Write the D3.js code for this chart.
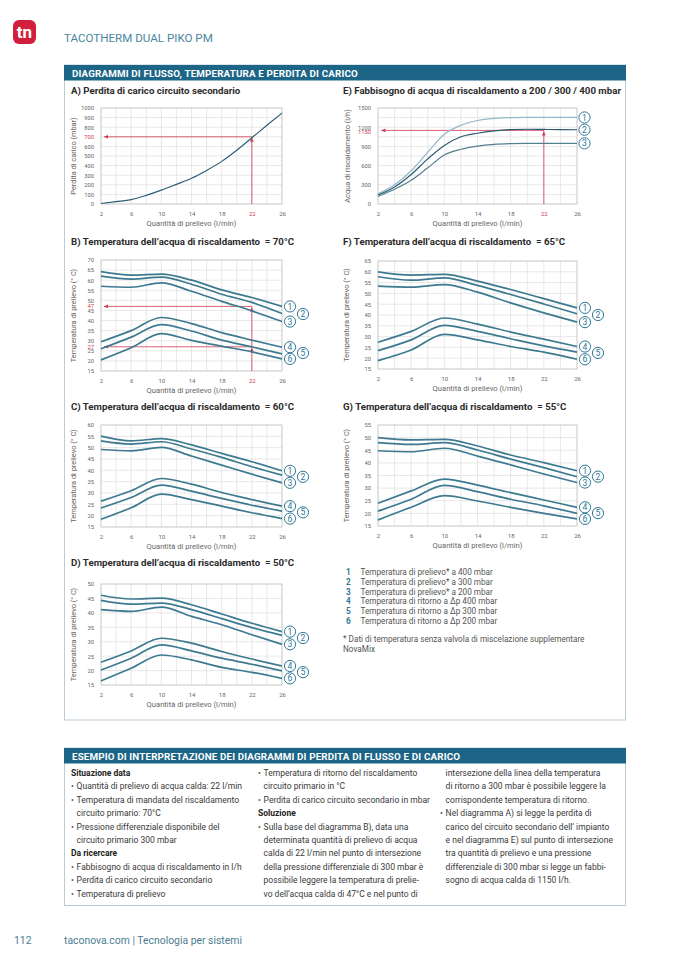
<!DOCTYPE html>
<html>
<head>
<meta charset="utf-8">
<script src="https://cdn.jsdelivr.net/npm/d3@7"></script>
<style>
  body { margin: 0; background: #fff; }
  text { font-family: Roboto, "Noto Sans", sans-serif; }
</style>
</head>
<body>
<svg id="page" width="678" height="959"></svg>
<script>
// ---- data ----
const flowTicks = [2, 6, 10, 14, 18, 22, 26];
const flowFine = [2, 4, 6, 8, 10, 12, 14, 16, 18, 20, 22, 24, 26];

const lossTicks = [0, 100, 200, 300, 400, 500, 600, 700, 800, 900, 1000];
const lossA = [5, 25, 46, 90, 144, 205, 268, 350, 444, 560, 690, 820, 947];

const demandTicks = [0, 300, 600, 900, 1200, 1500];
const demand400 = [160, 300, 520, 810, 1090, 1230, 1305, 1338, 1350, 1352, 1352, 1352, 1352];
const demand300 = [140, 265, 460, 705, 915, 1050, 1105, 1142, 1163, 1168, 1165, 1162, 1160];
const demand200 = [120, 230, 370, 565, 765, 855, 905, 932, 944, 948, 948, 948, 948];

const tempX = [2, 6, 10, 14, 18, 22, 26];
const temp70 = [
  [64.2, 62.5, 63.0, 60.0, 55.2, 51.4, 47.0],
  [62.0, 60.5, 61.5, 58.0, 53.0, 49.0, 43.5],
  [57.0, 56.5, 58.7, 54.5, 49.5, 44.8, 39.5],
  [29.5, 35.0, 41.5, 38.5, 34.0, 30.3, 26.8],
  [26.0, 31.8, 38.0, 34.8, 30.3, 27.0, 23.5],
  [20.5, 26.5, 33.5, 30.2, 27.3, 24.5, 21.0]
];
const temp65 = [
  [60.0, 58.5, 58.8, 55.7, 51.8, 47.6, 43.3],
  [57.7, 56.1, 57.2, 53.7, 49.5, 45.1, 40.6],
  [53.4, 52.9, 54.1, 50.6, 45.6, 41.0, 36.7],
  [27.4, 32.4, 38.6, 35.8, 32.1, 28.8, 25.4],
  [23.5, 28.5, 35.2, 32.4, 29.0, 25.7, 22.8],
  [18.9, 23.8, 31.0, 28.5, 25.4, 22.8, 19.5]
];
const temp60 = [
  [55.1, 53.0, 54.0, 51.2, 47.5, 43.8, 39.8],
  [53.0, 51.6, 52.6, 49.4, 45.7, 41.6, 37.9],
  [49.2, 48.6, 50.1, 46.3, 42.3, 38.3, 34.5],
  [26.4, 31.0, 36.4, 33.9, 30.2, 27.1, 24.2],
  [23.4, 28.0, 33.5, 30.8, 27.6, 24.6, 22.0],
  [18.4, 23.5, 29.5, 27.1, 24.2, 21.3, 18.7]
];
const temp55 = [
  [50.0, 49.1, 49.3, 46.7, 43.1, 40.1, 36.9],
  [48.0, 47.3, 48.0, 45.1, 41.5, 38.1, 34.5],
  [44.8, 44.4, 45.8, 42.7, 39.2, 35.6, 32.2],
  [24.0, 28.9, 33.6, 31.2, 28.2, 25.3, 22.4],
  [20.9, 25.6, 31.1, 28.6, 25.6, 23.0, 20.0],
  [17.4, 22.4, 27.0, 24.9, 22.4, 20.0, 17.8]
];
const temp50 = [
  [46.1, 44.8, 45.1, 42.8, 39.6, 36.4, 33.5],
  [44.3, 43.0, 43.4, 41.1, 38.0, 34.9, 32.2],
  [41.1, 40.5, 42.0, 38.8, 35.9, 32.4, 29.1],
  [22.9, 26.8, 31.2, 29.5, 26.6, 24.0, 21.6],
  [20.2, 24.3, 28.9, 26.8, 24.3, 22.2, 19.9],
  [16.4, 20.8, 25.4, 23.7, 21.1, 19.4, 17.3]
];

const ticks70 = [15, 20, 25, 30, 35, 40, 45, 50, 55, 60, 65, 70];
const ticks65 = [15, 20, 25, 30, 35, 40, 45, 50, 55, 60, 65];
const ticks60 = [15, 20, 25, 30, 35, 40, 45, 50, 55, 60];
const ticks55 = [15, 20, 25, 30, 35, 40, 45, 50, 55];
const ticks50 = [15, 20, 25, 30, 35, 40, 45, 50];

const legendNums = ['1', '2', '3', '4', '5', '6'];
const legendText = [
  'Temperatura di prelievo* a 400 mbar',
  'Temperatura di prelievo* a 300 mbar',
  'Temperatura di prelievo* a 200 mbar',
  'Temperatura di ritorno a \u0394p 400 mbar',
  'Temperatura di ritorno a \u0394p 300 mbar',
  'Temperatura di ritorno a \u0394p 200 mbar'
];

const col1 = [
  { t: 'Situazione data', b: true },
  { t: 'Quantità di prelievo di acqua calda: 22 l/min', dot: true },
  { t: 'Temperatura di mandata del riscaldamento', dot: true },
  { t: 'circuito primario: 70°C' },
  { t: 'Pressione differenziale disponibile del', dot: true },
  { t: 'circuito primario 300 mbar' },
  { t: 'Da ricercare', b: true },
  { t: 'Fabbisogno di acqua di riscaldamento in l/h', dot: true },
  { t: 'Perdita di carico circuito secondario', dot: true },
  { t: 'Temperatura di prelievo', dot: true }
];
const col2 = [
  { t: 'Temperatura di ritorno del riscaldamento', dot: true },
  { t: 'circuito primario in °C' },
  { t: 'Perdita di carico circuito secondario in mbar', dot: true },
  { t: 'Soluzione', b: true },
  { t: 'Sulla base del diagramma B), data una', dot: true },
  { t: 'determinata quantità di prelievo di acqua' },
  { t: 'calda di 22 l/min nel punto di intersezione' },
  { t: 'della pressione differenziale di 300 mbar è' },
  { t: 'possibile leggere la temperatura di prelie-' },
  { t: 'vo dell\u2019acqua calda di 47°C e nel punto di' }
];
const col3 = [
  { t: 'intersezione della linea della temperatura' },
  { t: 'di ritorno a 300 mbar è possibile leggere la' },
  { t: 'corrispondente temperatura di ritorno.' },
  { t: 'Nel diagramma A) si legge la perdita di', dot: true },
  { t: 'carico del circuito secondario dell\u2019 impianto' },
  { t: 'e nel diagramma E) sul punto di intersezione' },
  { t: 'tra quantità di prelievo e una pressione' },
  { t: 'differenziale di 300 mbar si legge un fabbi-' },
  { t: 'sogno di acqua calda di 1150 l/h.' }
];

// ---- page ----
const svg = d3.select('#page');
const red = '#d2374f';
const teal = '#2f7896';
const curveInk = '#3d7a90';
const soft = '#666';
const ink = '#2b2b2b';
const barBlue = '#1d6587';
const frame = '#b9ccd7';
const yLabelText = 'Temperatura di prelievo (° C)';
const xLabelText = 'Quantità di prelievo (l/min)';

// logo + running title
svg.append('rect').attr('x', 13).attr('y', 20).attr('width', 23).attr('height', 24)
   .attr('rx', 6).attr('fill', '#d0203c');
svg.append('text').attr('x', 24.5).attr('y', 37.5).attr('text-anchor', 'middle')
   .attr('fill', '#fff').attr('font-size', 17).attr('font-weight', 700).text('tn');
svg.append('text').attr('x', 64).attr('y', 42).attr('font-size', 11.6)
   .attr('fill', '#4b86a0').text('TACOTHERM DUAL PIKO PM');

function section(top, height, label) {
  svg.append('rect').attr('x', 64.5).attr('y', top).attr('width', 561).attr('height', height)
     .attr('fill', 'none').attr('stroke', frame).attr('stroke-width', 1);
  svg.append('rect').attr('x', 64).attr('y', top).attr('width', 562).attr('height', 15.5)
     .attr('fill', barBlue);
  svg.append('text').attr('x', 72).attr('y', top + 11.6).attr('font-size', 9.8)
     .attr('font-weight', 700).attr('fill', '#fff').attr('letter-spacing', 0.15).text(label);
}
section(65, 655, 'DIAGRAMMI DI FLUSSO, TEMPERATURA E PERDITA DI CARICO');
section(748, 157.5, 'ESEMPIO DI INTERPRETAZIONE DEI DIAGRAMMI DI PERDITA DI FLUSSO E DI CARICO');

const gap = '\u00a0 = ';
const charts = [
  { title: 'A) Perdita di carico circuito secondario', tx: 71, ty: 94, box: [101, 108, 282, 204],
    xs: flowFine, series: [lossA], yTicks: lossTicks, grid: lossTicks,
    yLabel: 'Perdita di carico (mbar)', ylx: 76, read: [700], colors: ['#2c5d77'] },
  { title: 'E) Fabbisogno di acqua di riscaldamento a 200 / 300 / 400 mbar', tx: 343, ty: 94,
    box: [378, 108, 577, 204], xs: flowFine, series: [demand400, demand300, demand200],
    yTicks: demandTicks, grid: [0, 150, 300, 450, 600, 750, 900, 1050, 1200, 1350, 1500],
    yLabel: 'Acqua di riscaldamento (l/h)', ylx: 350, read: [1150],
    colors: ['#93b8c7', '#2a5a6f', '#557f91'], tags: 'column' },
  { title: 'B) Temperatura dell\u2019acqua di riscaldamento' + gap + '70°C', tx: 71, ty: 245,
    box: [101, 260, 282, 371], xs: tempX, series: temp70, yTicks: ticks70, grid: ticks70,
    yLabel: yLabelText, ylx: 76, read: [47, 27], tags: 'pairs' },
  { title: 'F) Temperatura dell\u2019acqua di riscaldamento' + gap + '65°C', tx: 343, ty: 245,
    box: [378, 261, 577, 369], xs: tempX, series: temp65, yTicks: ticks65, grid: ticks65,
    yLabel: yLabelText, ylx: 349, read: [], tags: 'pairs' },
  { title: 'C) Temperatura dell\u2019acqua di riscaldamento' + gap + '60°C', tx: 71, ty: 410,
    box: [101, 425, 282, 527], xs: tempX, series: temp60, yTicks: ticks60, grid: ticks60,
    yLabel: yLabelText, ylx: 76, read: [], tags: 'pairs' },
  { title: 'G) Temperatura dell\u2019acqua di riscaldamento' + gap + '55°C', tx: 343, ty: 410,
    box: [378, 425, 577, 526], xs: tempX, series: temp55, yTicks: ticks55, grid: ticks55,
    yLabel: yLabelText, ylx: 349, read: [], tags: 'pairs' },
  { title: 'D) Temperatura dell\u2019acqua di riscaldamento' + gap + '50°C', tx: 71, ty: 566,
    box: [101, 584, 282, 685], xs: tempX, series: temp50, yTicks: ticks50, grid: ticks50,
    yLabel: yLabelText, ylx: 76, read: [], tags: 'pairs' }
];

charts.forEach(drawChart);

function drawChart(c) {
  const [l, t, r, b] = c.box;
  const x = d3.scaleLinear().domain([2, 26]).range([l, r]);
  const y = d3.scaleLinear().domain(d3.extent(c.yTicks)).range([b, t]);
  const g = svg.append('g');

  g.append('text').attr('x', c.tx).attr('y', c.ty).attr('font-size', 9.7)
   .attr('font-weight', 700).attr('fill', ink).text(c.title);

  // grid
  g.append('g').selectAll('line').data(d3.range(2, 27, 2)).join('line')
   .attr('x1', d => x(d)).attr('x2', d => x(d)).attr('y1', t).attr('y2', b)
   .attr('stroke', '#d9d9d9').attr('stroke-width', 0.6);
  g.append('g').selectAll('line').data(c.grid).join('line')
   .attr('x1', l).attr('x2', r).attr('y1', d => y(d)).attr('y2', d => y(d))
   .attr('stroke', '#d9d9d9').attr('stroke-width', 0.6);
  g.append('rect').attr('x', l).attr('y', t).attr('width', r - l).attr('height', b - t)
   .attr('fill', 'none').attr('stroke', '#c4c4c4').attr('stroke-width', 0.7);

  // axes
  const yAxis = g.append('g').attr('transform', `translate(${l},0)`)
    .call(d3.axisLeft(y).tickValues(c.yTicks).tickFormat(d3.format('d')).tickSize(0).tickPadding(7));
  yAxis.select('.domain').remove();
  yAxis.attr('font-size', 5.8);
  yAxis.selectAll('text').attr('fill', d => c.read.includes(d) ? red : soft);

  const xAxis = g.append('g').attr('transform', `translate(0,${b})`)
    .call(d3.axisBottom(x).tickValues(flowTicks).tickSize(0).tickPadding(8));
  xAxis.select('.domain').remove();
  xAxis.attr('font-size', 6);
  xAxis.selectAll('text').attr('fill', d => (c.read.length && d === 22) ? red : soft);

  g.append('text').attr('x', (l + r) / 2).attr('y', b + 21.5).attr('text-anchor', 'middle')
   .attr('font-size', 7.6).attr('fill', soft).text(xLabelText);
  g.append('text').attr('transform', `translate(${c.ylx},${(t + b) / 2}) rotate(-90)`)
   .attr('text-anchor', 'middle').attr('font-size', 7.4).attr('fill', soft).text(c.yLabel);

  // red reading lines for the worked example
  if (c.read.length) {
    const xr = x(22);
    c.read.forEach(v => {
      if (!c.yTicks.includes(v)) {
        g.append('text').attr('x', l - 7).attr('y', y(v) + (v === 1150 ? 3.8 : 2))
         .attr('text-anchor', 'end').attr('font-size', 5.8).attr('fill', red).text(v);
      }
      g.append('line').attr('x1', xr).attr('x2', x(2.4)).attr('y1', y(v)).attr('y2', y(v))
       .attr('stroke', red).attr('stroke-width', 0.8);
      g.append('path')
       .attr('d', `M${x(2.4)},${y(v)} l4,-1.8 l0,3.6 Z`).attr('fill', red);
      g.append('path')
       .attr('d', `M${xr},${y(v) + 1} l-1.8,4 l3.6,0 Z`).attr('fill', red);
    });
    g.append('line').attr('x1', xr).attr('x2', xr).attr('y1', b).attr('y2', y(d3.max(c.read)))
     .attr('stroke', red).attr('stroke-width', 0.8);
  }

  // curves
  const line = d3.line().x((d, i) => x(c.xs[i])).y(d => y(d)).curve(d3.curveMonotoneX);
  g.append('g').selectAll('path').data(c.series).join('path')
   .attr('d', line).attr('fill', 'none')
   .attr('stroke', (d, i) => c.colors ? c.colors[i] : curveInk)
   .attr('stroke-width', c.colors ? 1.2 : 1.7);

  // numbered tags at the line ends
  if (!c.tags) return;
  const ends = c.series.map(s => y(s[s.length - 1]));
  let tags;
  if (c.tags === 'column') {
    tags = ends.map((e, i) => ({ n: i + 1, cx: r + 7.5, cy: e }));
  } else {
    tags = [
      { n: 1, cx: r + 8, cy: ends[0] },
      { n: 2, cx: r + 21, cy: (ends[0] + ends[2]) / 2 },
      { n: 3, cx: r + 8, cy: ends[2] },
      { n: 4, cx: r + 8, cy: ends[3] },
      { n: 5, cx: r + 21, cy: (ends[3] + ends[5]) / 2 },
      { n: 6, cx: r + 8, cy: ends[5] }
    ];
  }
  const tg = g.append('g').selectAll('g').data(tags).join('g')
    .attr('transform', d => `translate(${d.cx},${d.cy})`);
  tg.append('circle').attr('r', 5.6).attr('fill', '#fff').attr('stroke', teal).attr('stroke-width', 1);
  tg.append('text').attr('y', 3.1).attr('text-anchor', 'middle').attr('font-size', 8.6)
    .attr('fill', teal).text(d => d.n);
}

// legend
const leg = svg.append('g').selectAll('g').data(legendText).join('g')
  .attr('transform', (d, i) => `translate(346,${575 + i * 9.8})`);
leg.append('text').attr('font-size', 8.2).attr('fill', teal).attr('font-weight', 700)
   .text((d, i) => legendNums[i]);
leg.append('text').attr('x', 14.5).attr('font-size', 8.2).attr('fill', '#555').text(d => d);
svg.append('text').attr('x', 343).attr('y', 642).attr('font-size', 8.2).attr('fill', '#555')
   .text('* Dati di temperatura senza valvola di miscelazione supplementare');
svg.append('text').attr('x', 343).attr('y', 651.5).attr('font-size', 8.2).attr('fill', '#555')
   .text('NovaMix');

// worked example text
function column(lines, x0) {
  const rows = svg.append('g').selectAll('g').data(lines).join('g')
    .attr('transform', (d, i) => `translate(${x0},${776 + i * 13.4})`);
  rows.filter(d => d.dot).append('text').attr('font-size', 8.5).attr('fill', '#555').text('\u2022');
  rows.append('text').attr('x', d => d.b ? 0 : 5.6).attr('font-size', 8.5)
      .attr('font-weight', d => d.b ? 700 : 400).attr('fill', d => d.b ? '#222' : '#3a3a3a')
      .text(d => d.t);
}
column(col1, 71);
column(col2, 258);
column(col3, 440);

// footer
svg.append('text').attr('x', 14).attr('y', 944).attr('font-size', 10.4).attr('fill', '#4d7d92').text('112');
svg.append('text').attr('x', 64).attr('y', 944).attr('font-size', 10.4).attr('fill', '#4d7d92')
   .text('taconova.com | Tecnologia per sistemi');
</script>
</body>
</html>
